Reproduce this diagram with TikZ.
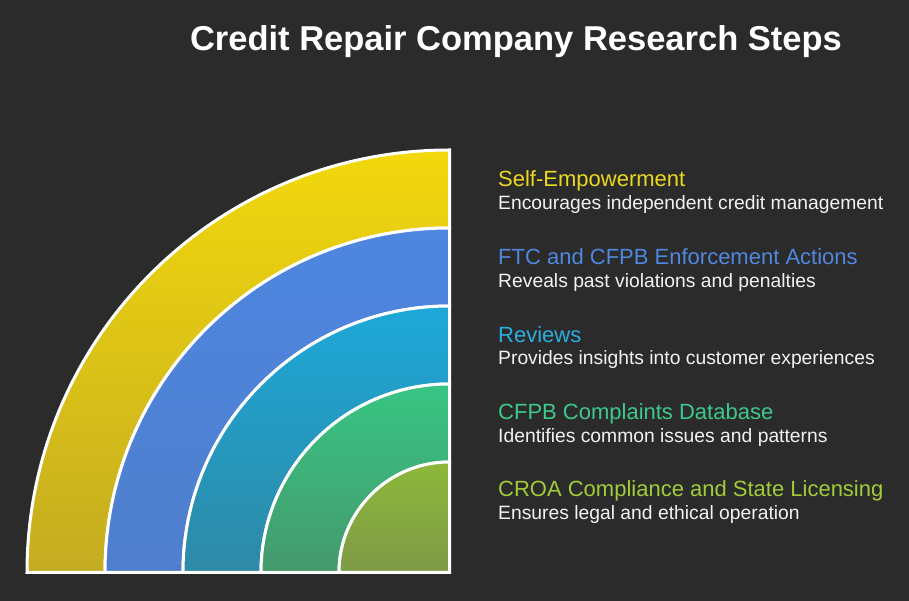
\documentclass[tikz,border=0pt]{standalone}
\usepackage{fontspec}
\setmainfont{Liberation Sans}
\definecolor{bg}{HTML}{2B2B2B}
\definecolor{ylT}{HTML}{F2D80C}\definecolor{ylB}{HTML}{C4AC22}
\definecolor{blT}{HTML}{4E86E0}\definecolor{blB}{HTML}{4F7FCC}
\definecolor{cyT}{HTML}{1DA8D8}\definecolor{cyB}{HTML}{2E89A6}
\definecolor{grT}{HTML}{38C584}\definecolor{grB}{HTML}{45996C}
\definecolor{olT}{HTML}{8CB83A}\definecolor{olB}{HTML}{7F9A46}
\definecolor{hY}{HTML}{EBD91E}
\definecolor{hB}{HTML}{5088E0}
\definecolor{hC}{HTML}{2AAEE0}
\definecolor{hG}{HTML}{3DC98C}
\definecolor{hO}{HTML}{A2CC3A}
\definecolor{txt}{HTML}{F2F2F2}
\begin{document}
\begin{tikzpicture}[x=1pt,y=1pt,
  band/.style={draw=white,line width=3pt,line join=miter},
  head/.style={anchor=base west,inner sep=0pt,font=\fontsize{22}{26}\selectfont},
  desc/.style={anchor=base west,inner sep=0pt,text=txt,font=\fontsize{19.3}{23}\selectfont}]
\fill[bg] (0,0) rectangle (909,601);
\useasboundingbox (0,0) rectangle (909,601);
\coordinate (C) at (449.5,28.5);
% bands
\shade[top color=ylT,bottom color=ylB] (C) ++(-422.5,0) arc[start angle=180,end angle=90,radius=422.5] -- ++(0,-78) arc[start angle=90,end angle=180,radius=344.5] -- cycle;
\draw[band] (C) ++(-422.5,0) arc[start angle=180,end angle=90,radius=422.5] -- ++(0,-78) arc[start angle=90,end angle=180,radius=344.5] -- cycle;
\shade[top color=blT,bottom color=blB] (C) ++(-344.5,0) arc[start angle=180,end angle=90,radius=344.5] -- ++(0,-78) arc[start angle=90,end angle=180,radius=266.5] -- cycle;
\draw[band] (C) ++(-344.5,0) arc[start angle=180,end angle=90,radius=344.5] -- ++(0,-78) arc[start angle=90,end angle=180,radius=266.5] -- cycle;
\shade[top color=cyT,bottom color=cyB] (C) ++(-266.5,0) arc[start angle=180,end angle=90,radius=266.5] -- ++(0,-78) arc[start angle=90,end angle=180,radius=188.5] -- cycle;
\draw[band] (C) ++(-266.5,0) arc[start angle=180,end angle=90,radius=266.5] -- ++(0,-78) arc[start angle=90,end angle=180,radius=188.5] -- cycle;
\shade[top color=grT,bottom color=grB] (C) ++(-188.5,0) arc[start angle=180,end angle=90,radius=188.5] -- ++(0,-78) arc[start angle=90,end angle=180,radius=110.5] -- cycle;
\draw[band] (C) ++(-188.5,0) arc[start angle=180,end angle=90,radius=188.5] -- ++(0,-78) arc[start angle=90,end angle=180,radius=110.5] -- cycle;
\shade[top color=olT,bottom color=olB] (C) -- ++(-110.5,0) arc[start angle=180,end angle=90,radius=110.5] -- cycle;
\draw[band] (C) -- ++(-110.5,0) arc[start angle=180,end angle=90,radius=110.5] -- cycle;
% title
\node[anchor=base,inner sep=0pt,text=white,font=\bfseries\fontsize{34.5}{40}\selectfont] (title) at (516,550) {Credit Repair Company Research Steps};
% labels
\node[head,text=hY] (h1) at (498,414) {Self-Empowerment};
\node[desc] (d1) at (498,391.5) {Encourages independent credit management};
\node[head,text=hB] (h2) at (498,336) {FTC and CFPB Enforcement Actions};
\node[desc] (d2) at (498,313.5) {Reveals past violations and penalties};
\node[head,text=hC] (h3) at (498,258.3) {Reviews};
\node[desc] (d3) at (498,236) {Provides insights into customer experiences};
\node[head,text=hG] (h4) at (498,181) {CFPB Complaints Database};
\node[desc] (d4) at (498,158.3) {Identifies common issues and patterns};
\node[head,text=hO] (h5) at (498,104) {CROA Compliance and State Licensing};
\node[desc] (d5) at (498,81) {Ensures legal and ethical operation};
\end{tikzpicture}
\end{document}
